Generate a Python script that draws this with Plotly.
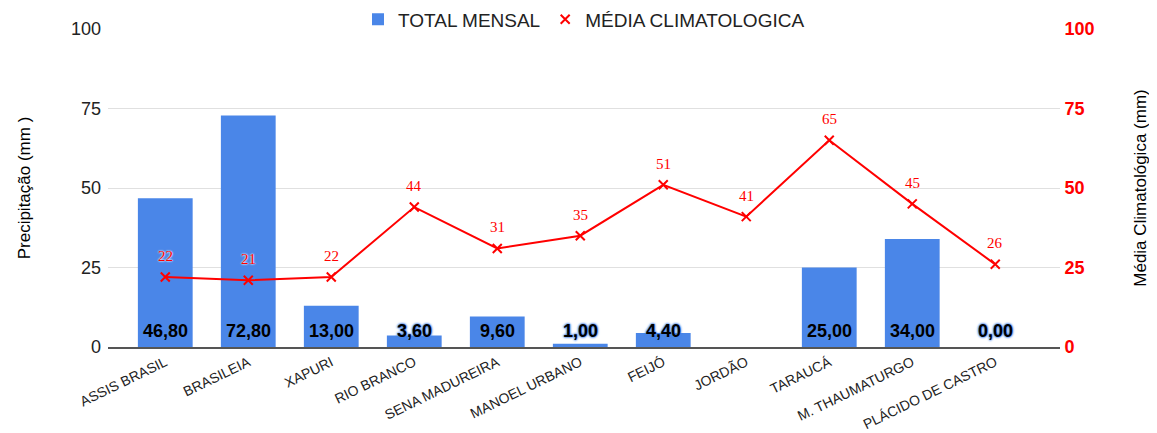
import plotly.graph_objects as go

categories = ["ASSIS BRASIL", "BRASILEIA", "XAPURI", "RIO BRANCO", "SENA MADUREIRA",
              "MANOEL URBANO", "FEIJÓ", "JORDÃO", "TARAUCÁ", "M. THAUMATURGO", "PLÁCIDO DE CASTRO"]
total_mensal = [46.8, 72.8, 13.0, 3.6, 9.6, 1.0, 4.4, None, 25.0, 34.0, 0.0]
media_climatologica = [22, 21, 22, 44, 31, 35, 51, 41, 65, 45, 26]
y_ticks = [0, 25, 50, 75, 100]

BLUE = "#4a86e8"
RED = "#ff0000"

fig = go.Figure()
fig.add_trace(go.Bar(
    x=categories, y=total_mensal, name="TOTAL MENSAL",
    marker=dict(color=BLUE, line=dict(width=0)), width=0.66,
))
fig.add_trace(go.Scatter(
    x=categories, y=media_climatologica, name="MÉDIA CLIMATOLOGICA", yaxis="y2",
    mode="lines+markers", showlegend=False,
    line=dict(color=RED, width=2),
    marker=dict(symbol="x-thin", size=9, color=RED, line=dict(color=RED, width=2)),
))
# legend-only entry (marker only, as in the reference legend)
fig.add_trace(go.Scatter(
    x=[None], y=[None], name="MÉDIA CLIMATOLOGICA", yaxis="y2", mode="markers",
    marker=dict(symbol="x-thin", size=9, color=RED, line=dict(color=RED, width=2)),
))

for c, v in zip(categories, media_climatologica):
    fig.add_annotation(
        x=c, y=v, xref="x", yref="y2", text=str(v), showarrow=False, yshift=21,
        font=dict(family="Liberation Serif, Times New Roman, serif", size=15, color=RED,
                  shadow="0 0 2px #ffffff, 0 0 2px #ffffff"),
        yanchor="middle",
    )

small = {"3,60", "1,00", "4,40", "0,00"}
for c, v in zip(categories, total_mensal):
    if v is None:
        continue
    lbl = f"{v:.2f}".replace(".", ",")
    fig.add_annotation(
        x=c, y=5, xref="x", yref="y", text=f"<b>{lbl}</b>", showarrow=False,
        font=dict(family="Arial", size=18, color="#000000",
                  shadow=("0 0 2px %s, 0 0 2px %s, 0 0 3px %s" % (BLUE, BLUE, BLUE)) if lbl in small else "none"),
        yanchor="middle",
    )

# the page body has an 8px margin, so the figure is drawn 8px smaller and offset
fig.update_layout(
    width=1149, height=425,
    margin=dict(l=100, r=97, t=21, b=86, autoexpand=False),
    plot_bgcolor="white", paper_bgcolor="white",
    font=dict(family="Arial", color="#222222"),
    showlegend=True,
    legend=dict(orientation="h", x=0.5, xanchor="center", y=1.03, yanchor="middle",
                font=dict(family="Arial", size=19, color="#222222"),
                bgcolor="rgba(0,0,0,0)", itemwidth=30),
    xaxis=dict(range=[-0.69, 10.78], tickangle=-26, automargin=False,
               tickfont=dict(family="Arial", size=14, color="#222222"),
               showgrid=False, showline=True, linecolor="#555555", linewidth=2, ticks=""),
    yaxis=dict(range=[0, 100], tickvals=y_ticks, showgrid=True, gridcolor="#e0e0e0", gridwidth=1,
               zeroline=False, automargin=False, tickfont=dict(family="Arial", size=18, color="#222222"),
               ticklabelstandoff=6,
               title=dict(text="Precipitação (mm )", font=dict(family="Arial", size=17, color="#000000"), standoff=36),
               ticks="", ticklen=0),
    yaxis2=dict(range=[0, 100], tickvals=y_ticks, overlaying="y", side="right", showgrid=False,
                zeroline=False, automargin=False, tickfont=dict(family="Arial", size=18, color=RED, weight="bold"),
                title=dict(text="Média Climatológica (mm)", font=dict(family="Arial", size=17, color="#000000"), standoff=40),
                ticks="outside", ticklen=0),
)

fig.write_html("out.html")
